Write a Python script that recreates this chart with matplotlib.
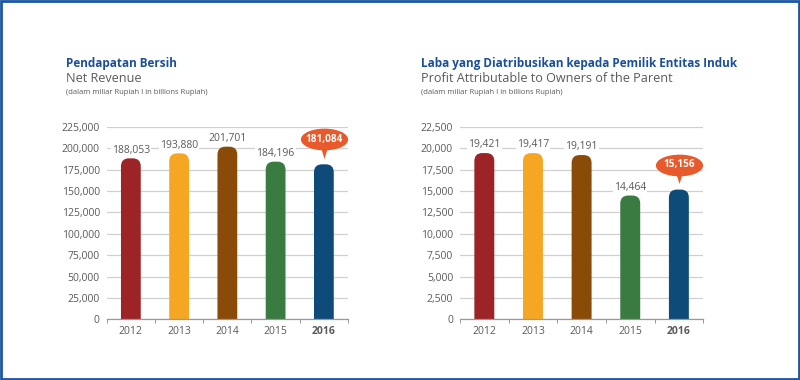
import numpy as np
import matplotlib.pyplot as plt
from matplotlib.patches import FancyBboxPatch, Rectangle
from matplotlib.path import Path
from matplotlib.transforms import ScaledTranslation

plt.rcParams['font.family'] = ['Open Sans', 'DejaVu Sans']

years = ['2012', '2013', '2014', '2015', '2016']
revenue = [188053, 193880, 201701, 184196, 181084]
profit = [19421, 19417, 19191, 14464, 15156]
rev_ticks = [0, 25000, 50000, 75000, 100000, 125000, 150000, 175000, 200000, 225000]
prof_ticks = [0, 2500, 5000, 7500, 10000, 12500, 15000, 17500, 20000, 22500]

colors = ['#9c2326', '#f5a623', '#8a4b08', '#3a7b41', '#0e4b78']
blue = '#1b4f9c'
grey = '#5a5a5a'
orange = '#e8592b'

# callout shapes
circ = Path.unit_circle()
bubble = Path(circ.vertices * [1, 0.46], circ.codes)
pointer = Path([(-0.3, 0.5), (0.3, 0.5), (0, -0.5), (-0.3, 0.5)])

fig = plt.figure(figsize=(8, 3.8), dpi=100)


def draw(ax, values, ticks):
    ax.set_xlim(-0.5, 4.5)
    ax.set_ylim(0, ticks[-1])
    fig.canvas.draw()
    # rounded-top bars: radius in px converted to data units
    w = 0.41
    inv = ax.transData.inverted()
    p0 = inv.transform((0, 0))
    p1 = inv.transform((8, 8))
    rx = p1[0] - p0[0]
    ry = p1[1] - p0[1]
    for i, v in enumerate(values):
        bar = FancyBboxPatch((i - w / 2, -ry * 2), w, v + ry * 2,
                             boxstyle=f"round,pad=0,rounding_size={rx}",
                             mutation_aspect=ry / rx,
                             fc=colors[i], ec='none', zorder=3)
        ax.add_patch(bar)
        if i < len(values) - 1:
            ax.annotate(f"{v:,}", (i, v), xytext=(0, 6), textcoords='offset points',
                        ha='center', va='center', fontsize=7.5, color=grey, zorder=4,
                        bbox=dict(boxstyle='square,pad=0.1', fc='white', ec='none'))
        else:
            up = ax.transData + ScaledTranslation(0, 18 / 72, fig.dpi_scale_trans)
            ax.plot(i, v, marker=bubble, ms=34, color=orange, mec='none',
                    transform=up, zorder=5, clip_on=False)
            tip = ax.transData + ScaledTranslation(0, 8 / 72, fig.dpi_scale_trans)
            ax.plot(i, v, marker=pointer, ms=8, color=orange, mec='none',
                    transform=tip, zorder=5, clip_on=False)
            ax.annotate(f"{v:,}", (i, v), xytext=(0, 18), textcoords='offset points',
                        ha='center', va='center', fontsize=7.2, color='white',
                        fontweight='bold', zorder=6)
    ax.set_yticks(ticks)
    ax.set_yticklabels([f"{t:,}" for t in ticks])
    ax.set_xticks(range(5))
    ax.set_xticklabels(years)
    ax.get_xticklabels()[-1].set_fontweight('bold')
    ax.set_xticks(np.arange(-0.5, 5, 1), minor=True)
    ax.tick_params(axis='x', which='major', length=0, labelsize=7.5, labelcolor=grey, pad=5)
    ax.tick_params(axis='x', which='minor', length=3, color='#888888', direction='out')
    ax.tick_params(axis='y', length=0, labelsize=7.5, labelcolor=grey, pad=5)
    ax.grid(axis='y', color='#d0d0d0', lw=0.9)
    ax.set_axisbelow(True)
    for s in ['top', 'right', 'left']:
        ax.spines[s].set_visible(False)
    ax.spines['bottom'].set_color('#999999')
    ax.spines['bottom'].set_linewidth(0.9)
    ax.spines['bottom'].set_zorder(4)


ax1 = fig.add_axes([0.1334, 0.1597, 0.3016, 0.5068])
draw(ax1, revenue, rev_ticks)
ax2 = fig.add_axes([0.575, 0.1597, 0.304, 0.5068])
draw(ax2, profit, prof_ticks)

# titles
for x, t1, t2 in [(66, 'Pendapatan Bersih', 'Net Revenue'),
                  (421, 'Laba yang Diatribusikan kepada Pemilik Entitas Induk',
                   'Profit Attributable to Owners of the Parent')]:
    fig.text(x / 800, 1 - 64 / 380, t1, color=blue, fontsize=8.5, fontweight='bold', va='center')
    fig.text(x / 800, 1 - 79 / 380, t2, color=grey, fontsize=9.1, va='center')
    fig.text(x / 800, 1 - 93 / 380, '(dalam miliar Rupiah I in billions Rupiah)',
             color=grey, fontsize=5.5, va='center')

fig.patches.append(Rectangle((0.001, 0.002), 0.998, 0.996, transform=fig.transFigure,
                             fill=False, ec='#1c56a3', lw=2))

fig.savefig('out.png', dpi=100)
